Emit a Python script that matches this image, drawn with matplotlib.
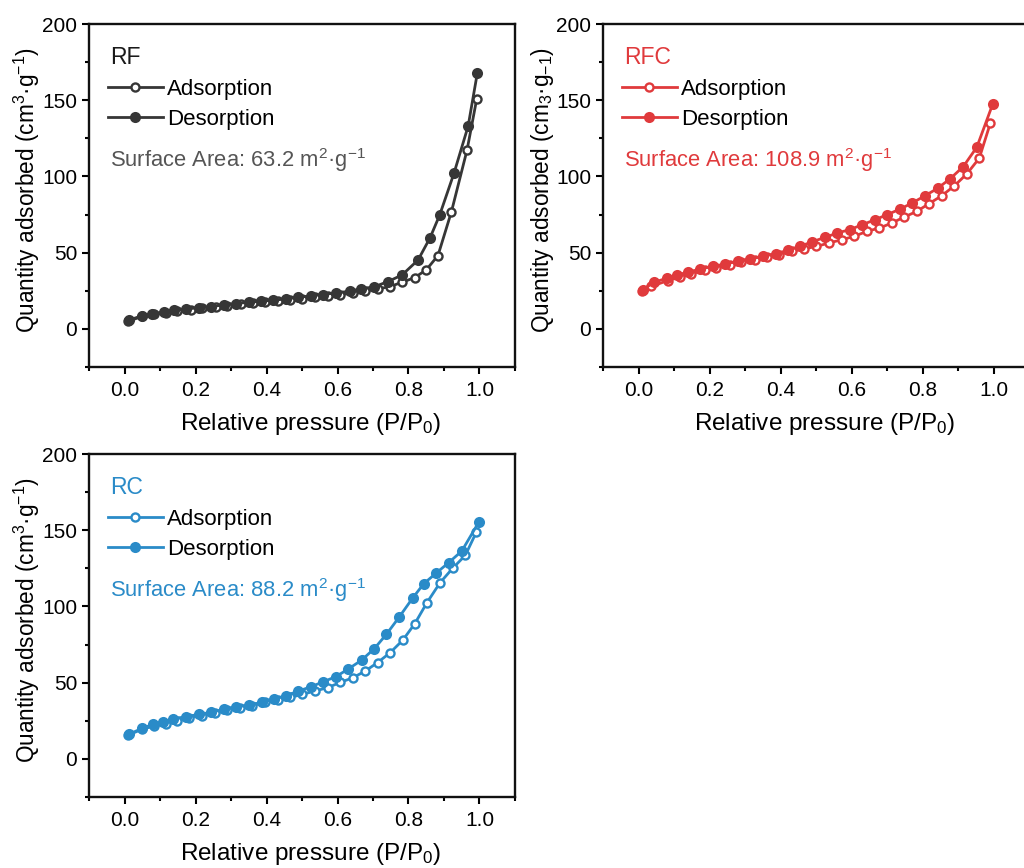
import matplotlib
matplotlib.use("Agg")
import matplotlib.pyplot as plt
from matplotlib.ticker import MultipleLocator

plt.rcParams['font.family'] = ['Liberation Sans', 'DejaVu Sans']
plt.rcParams['mathtext.fontset'] = 'custom'
plt.rcParams['mathtext.rm'] = 'Liberation Sans'
plt.rcParams['mathtext.it'] = 'Liberation Sans:italic'
plt.rcParams['mathtext.bf'] = 'Liberation Sans:bold'

# ---------------- data ----------------
rf_ads_x = [0.01, 0.05, 0.083, 0.116, 0.149, 0.186, 0.219, 0.257, 0.29, 0.327, 0.362, 0.396,
            0.431, 0.467, 0.501, 0.536, 0.572, 0.608, 0.643, 0.678, 0.713, 0.747, 0.782,
            0.817, 0.85, 0.883, 0.921, 0.965, 0.992]
rf_ads_y = [5.0, 8.2, 9.6, 10.5, 11.6, 12.6, 13.4, 14.2, 15.1, 16.0, 16.8, 17.5,
            18.3, 19.0, 19.8, 20.6, 21.5, 22.5, 23.5, 24.8, 26.2, 27.7, 30.6,
            33.6, 38.7, 48.1, 76.9, 117.4, 150.6]
rf_des_x = [0.012, 0.05, 0.078, 0.111, 0.139, 0.172, 0.21, 0.243, 0.28, 0.314, 0.351, 0.384,
            0.417, 0.455, 0.488, 0.525, 0.558, 0.596, 0.634, 0.667, 0.704, 0.742, 0.782,
            0.827, 0.861, 0.888, 0.928, 0.968, 0.994]
rf_des_y = [5.7, 8.7, 10.0, 10.9, 12.2, 13.1, 13.8, 14.4, 15.9, 16.6, 17.5, 18.1,
            18.8, 19.6, 20.7, 21.6, 22.5, 23.6, 24.7, 26.2, 27.7, 31.0, 35.4,
            45.2, 59.9, 74.8, 102.0, 133.0, 168.0]

rfc_ads_x = [0.01, 0.036, 0.083, 0.116, 0.149, 0.186, 0.219, 0.257, 0.29, 0.327, 0.362, 0.396,
             0.431, 0.467, 0.501, 0.536, 0.572, 0.608, 0.643, 0.678, 0.713, 0.748, 0.784,
             0.818, 0.854, 0.89, 0.925, 0.96, 0.991]
rfc_ads_y = [25.0, 27.9, 31.7, 34.0, 36.2, 38.4, 40.0, 41.7, 43.7, 45.4, 46.9, 48.7,
             50.9, 52.5, 54.1, 56.3, 58.5, 60.7, 64.0, 66.1, 69.4, 73.3, 77.1,
             82.1, 87.3, 93.9, 101.7, 112.0, 134.9]
rfc_des_x = [0.012, 0.045, 0.081, 0.108, 0.139, 0.174, 0.21, 0.245, 0.28, 0.315, 0.351, 0.386,
             0.42, 0.454, 0.49, 0.525, 0.56, 0.595, 0.63, 0.666, 0.70, 0.737, 0.77,
             0.807, 0.843, 0.878, 0.915, 0.953, 0.998]
rfc_des_y = [25.8, 30.6, 33.4, 35.4, 37.1, 39.3, 41.0, 42.6, 44.3, 45.8, 47.6, 49.3,
             51.5, 54.1, 57.2, 60.0, 62.9, 65.1, 68.3, 71.6, 74.9, 78.6, 82.5,
             87.3, 92.3, 98.5, 106.5, 119.2, 147.6]

rc_ads_x = [0.01, 0.05, 0.083, 0.116, 0.149, 0.183, 0.219, 0.254, 0.29, 0.325, 0.36, 0.396,
            0.431, 0.467, 0.501, 0.536, 0.572, 0.608, 0.643, 0.678, 0.713, 0.748, 0.784,
            0.818, 0.852, 0.889, 0.925, 0.96, 0.991]
rc_ads_y = [15.5, 19.5, 21.5, 22.7, 24.9, 27.0, 28.4, 29.9, 31.8, 33.2, 34.9, 37.1,
            38.6, 40.3, 42.3, 44.5, 46.7, 50.2, 53.2, 57.6, 63.2, 69.6, 77.9,
            88.8, 102.5, 115.6, 125.2, 133.5, 148.7]
rc_des_x = [0.012, 0.05, 0.081, 0.108, 0.137, 0.172, 0.21, 0.243, 0.28, 0.315, 0.351, 0.386,
            0.42, 0.454, 0.49, 0.525, 0.56, 0.595, 0.63, 0.668, 0.704, 0.738, 0.774,
            0.812, 0.843, 0.878, 0.913, 0.95, 0.998]
rc_des_y = [16.1, 20.1, 22.7, 24.4, 26.2, 27.7, 29.2, 30.5, 32.5, 34.0, 35.3, 37.1,
            39.0, 41.4, 44.5, 47.3, 50.6, 53.9, 58.9, 64.8, 72.4, 81.8, 93.1,
            105.6, 114.9, 121.9, 128.7, 136.3, 155.3]

x_ticks = [0.0, 0.2, 0.4, 0.6, 0.8, 1.0]
x_ticklabels = ["0.0", "0.2", "0.4", "0.6", "0.8", "1.0"]

panels = [
    dict(name="RF", area="Surface Area: 63.2 m$^{2}$·g$^{-1}$",
         ylabel="Quantity adsorbed (cm$^{3}$·g$^{-1}$)",
         ax_x=rf_ads_x, ax_y=rf_ads_y, dx=rf_des_x, dy=rf_des_y,
         color="#363636", name_color="#1a1a1a", area_color="#555555",
         pos=[89 / 1024, 1 - 367 / 868, 426 / 1024, 343 / 868]),
    dict(name="RFC", area="Surface Area: 108.9 m$^{2}$·g$^{-1}$",
         ylabel="Quantity adsorbed (cm$_{3}$·g$_{-1}$)",
         ax_x=rfc_ads_x, ax_y=rfc_ads_y, dx=rfc_des_x, dy=rfc_des_y,
         color="#e03a3c", name_color="#e03a3c", area_color="#e03a3c",
         pos=[603 / 1024, 1 - 367 / 868, 426 / 1024, 343 / 868]),
    dict(name="RC", area="Surface Area: 88.2 m$^{2}$·g$^{-1}$",
         ylabel="Quantity adsorbed (cm$^{3}$·g$^{-1}$)",
         ax_x=rc_ads_x, ax_y=rc_ads_y, dx=rc_des_x, dy=rc_des_y,
         color="#2a8bc8", name_color="#2a8bc8", area_color="#2a8bc8",
         pos=[89 / 1024, 1 - 797 / 868, 426 / 1024, 343 / 868]),
]

fig = plt.figure(figsize=(10.24, 8.68), dpi=100)

for p in panels:
    ax = fig.add_axes(p["pos"])
    c = p["color"]
    ax.plot(p["ax_x"], p["ax_y"], '-o', color=c, lw=2.0, ms=5.8, mfc='white',
            mec=c, mew=1.7, label="Adsorption", zorder=3)
    ax.plot(p["dx"], p["dy"], '-o', color=c, lw=2.0, ms=8, mfc=c,
            mec=c, mew=0, label="Desorption", zorder=4)
    ax.set_xlim(-0.1, 1.1)
    ax.set_ylim(-25, 200)
    ax.xaxis.set_minor_locator(MultipleLocator(0.1))
    ax.yaxis.set_major_locator(MultipleLocator(50))
    ax.yaxis.set_minor_locator(MultipleLocator(25))
    ax.tick_params(which='major', direction='out', length=5, width=1.5,
                   labelsize=15, pad=3.5, top=False, right=False)
    ax.tick_params(which='minor', direction='out', length=3, width=1.5,
                   top=False, right=False)
    ax.set_xticks(x_ticks)
    ax.set_xticklabels(x_ticklabels)
    ax.tick_params(axis='x', which='major', pad=5)
    for s in ax.spines.values():
        s.set_linewidth(1.7)
        s.set_color("#111111")
    ax.set_xlabel("Relative pressure (P/P$_{0}$)", fontsize=17.5, labelpad=8)
    ax.xaxis.label.set_x(0.521)
    ax.set_ylabel(p["ylabel"], fontsize=16.3, labelpad=0)
    ax.yaxis.label.set_y(0.515)
    ax.text(0.05, 0.883, p["name"], transform=ax.transAxes, fontsize=16.5,
            color=p["name_color"], va='baseline', ha='left')
    ax.text(0.05, 0.583, p["area"], transform=ax.transAxes, fontsize=15.8,
            color=p["area_color"], va='baseline', ha='left')
    ax.legend(loc='upper left', bbox_to_anchor=(0.045, 0.84), frameon=False,
              fontsize=16, handlelength=2.45, handletextpad=0.2, borderpad=0,
              borderaxespad=0, labelspacing=0.4)

fig.savefig("out.png", dpi=100)
